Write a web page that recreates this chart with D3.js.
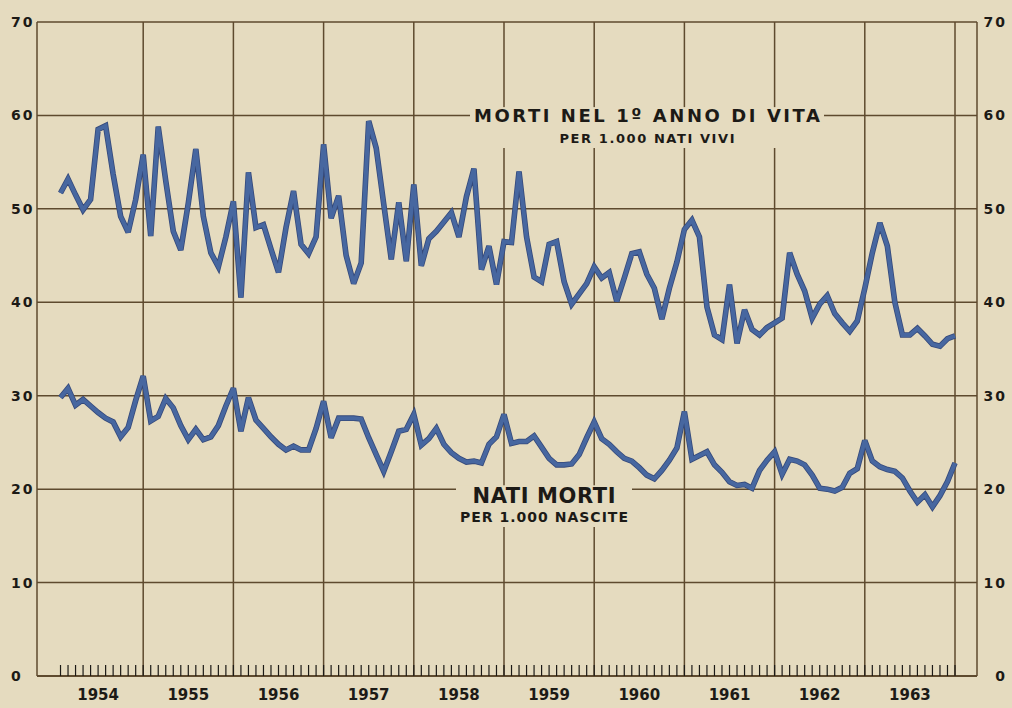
<!DOCTYPE html>
<html>
<head>
  <meta charset="utf-8">
  <script src="https://d3js.org/d3.v7.min.js"></script>
  <style type="text/css">
    body { margin: 0; background: #e5dbbf; }
    svg { display: block; }
  </style>
</head>
<body>
<script type="text/javascript">
  // year labels along the bottom
  var years = [1954, 1955, 1956, 1957, 1958, 1959, 1960, 1961, 1962, 1963];
  var yTicks = [0, 10, 20, 30, 40, 50, 60, 70];

  // morti nel 1º anno di vita per 1.000 nati vivi, one value per month (Jan 1954 .. Dec 1963)
  var mortiPrimoAnno = [
    51.7, 53.2, 51.5, 49.9, 51.0, 58.5, 58.9, 53.7, 49.2, 47.5, 51.0, 55.8,
    47.1, 58.8, 53.0, 47.6, 45.6, 50.6, 56.4, 49.2, 45.3, 43.8, 47.0, 50.8,
    40.5, 53.9, 48.0, 48.3, 45.7, 43.2, 48.0, 51.9, 46.2, 45.2, 47.0, 56.9,
    49.0, 51.4, 45.0, 42.0, 44.2, 59.4, 56.5, 50.5, 44.6, 50.7, 44.4, 52.6,
    43.9, 46.8, 47.6, 48.6, 49.6, 47.0, 51.3, 54.3, 43.5, 46.0, 41.9, 46.5,
    46.4, 54.0, 47.0, 42.7, 42.2, 46.2, 46.5, 42.2, 39.8, 40.9, 42.0, 43.8,
    42.6, 43.2, 40.1, 42.6, 45.2, 45.4, 43.0, 41.5, 38.2, 41.5, 44.3, 47.8,
    48.8, 47.0, 39.5, 36.5, 36.0, 41.9, 35.6, 39.2, 37.1, 36.5, 37.3, 37.8,
    38.3, 45.3, 43.0, 41.2, 38.3, 39.8, 40.7, 38.8, 37.8, 36.9, 38.0, 41.5,
    45.3, 48.5, 46.0, 40.0, 36.5, 36.5, 37.2, 36.4, 35.5, 35.3, 36.1, 36.4
  ];

  // nati morti per 1.000 nascite, same months
  var natiMorti = [
    29.8, 30.8, 29.0, 29.6, 28.9, 28.2, 27.6, 27.2, 25.6, 26.6, 29.5, 32.1,
    27.3, 27.8, 29.7, 28.7, 26.8, 25.3, 26.4, 25.3, 25.6, 26.8, 28.9, 30.8,
    26.2, 29.8, 27.4, 26.5, 25.6, 24.8, 24.2, 24.6, 24.2, 24.2, 26.5, 29.4,
    25.5, 27.6, 27.6, 27.6, 27.5, 25.5, 23.7, 21.9, 24.0, 26.2, 26.4, 28.0,
    24.7, 25.4, 26.5, 24.8, 23.9, 23.3, 22.9, 23.0, 22.8, 24.8, 25.6, 28.0,
    24.9, 25.1, 25.1, 25.7, 24.5, 23.3, 22.6, 22.6, 22.7, 23.7, 25.5, 27.2,
    25.4, 24.8, 24.0, 23.3, 23.0, 22.3, 21.5, 21.1, 22.0, 23.1, 24.4, 28.3,
    23.2, 23.6, 24.0, 22.6, 21.8, 20.8, 20.4, 20.5, 20.1, 22.0, 23.1, 24.0,
    21.6, 23.2, 23.0, 22.6, 21.5, 20.1, 20.0, 19.8, 20.2, 21.7, 22.2, 25.2,
    23.0, 22.4, 22.1, 21.9, 21.2, 19.8, 18.6, 19.4, 18.1, 19.3, 20.8, 22.8
  ];

  var width = 1012,
      height = 708;

  var paper = "#e5dbbf",
      gridColor = "#5e4a2e",
      inkColor = "#1c1a16";

  var svg = d3.select("body")
    .append("svg")
      .attr("width", width)
      .attr("height", height);

  svg.append("rect")
    .attr("width", width)
    .attr("height", height)
    .attr("fill", paper);

  // months counted from start of 1954, every value sits at the end of its month
  var x = d3.scaleLinear().domain([0, 120]).range([53, 955]);
  var y = d3.scaleLinear().domain([0, 70]).range([676, 22]);

  var frameLeft = 37,
      frameRight = 977;

  //Horizontal grid
  svg.selectAll(".hgrid")
    .data(yTicks)
    .enter()
    .append("line")
      .attr("class", "hgrid")
      .attr("x1", frameLeft)
      .attr("x2", frameRight)
      .attr("y1", function (d) { return y(d); })
      .attr("y2", function (d) { return y(d); })
      .attr("stroke", gridColor)
      .attr("stroke-width", function (d) { return d === 0 ? 2 : 1.5; });

  //Vertical grid: frame edges plus year boundaries
  var vLines = [frameLeft, frameRight].concat(d3.range(1, 11).map(function (k) { return x(k * 12); }));
  svg.selectAll(".vgrid")
    .data(vLines)
    .enter()
    .append("line")
      .attr("class", "vgrid")
      .attr("x1", function (d) { return d; })
      .attr("x2", function (d) { return d; })
      .attr("y1", y(70))
      .attr("y2", y(0))
      .attr("stroke", gridColor)
      .attr("stroke-width", 1.5);

  //Month ticks on the zero line
  svg.selectAll(".mtick")
    .data(d3.range(1, 121))
    .enter()
    .append("line")
      .attr("class", "mtick")
      .attr("x1", function (d) { return x(d); })
      .attr("x2", function (d) { return x(d); })
      .attr("y1", y(0))
      .attr("y2", y(0) - 11)
      .attr("stroke", inkColor)
      .attr("stroke-width", 1.2);

  //Axis numbers both sides
  var labelFont = "'DejaVu Sans', sans-serif";
  svg.selectAll(".ylabL")
    .data(yTicks)
    .enter()
    .append("text")
      .attr("x", 11)
      .attr("y", function (d) { return y(d) + 5; })
      .style("font-family", labelFont)
      .style("font-size", "14px")
      .style("font-weight", "bold")
      .style("letter-spacing", "2px")
      .attr("fill", inkColor)
      .text(function (d) { return d; });

  svg.selectAll(".ylabR")
    .data(yTicks)
    .enter()
    .append("text")
      .attr("x", 1007)
      .attr("y", function (d) { return y(d) + 5; })
      .attr("text-anchor", "end")
      .style("font-family", labelFont)
      .style("font-size", "14px")
      .style("font-weight", "bold")
      .style("letter-spacing", "2px")
      .attr("fill", inkColor)
      .text(function (d) { return d; });

  //Year labels centred in each year
  svg.selectAll(".year")
    .data(years)
    .enter()
    .append("text")
      .attr("x", function (d, i) { return x(i * 12 + 6); })
      .attr("y", 700)
      .attr("text-anchor", "middle")
      .style("font-family", labelFont)
      .style("font-size", "15px")
      .style("font-weight", "bold")
      .attr("fill", inkColor)
      .text(function (d) { return d; });

  //Series lines
  var line = d3.line()
    .x(function (d, i) { return x(i + 1); })
    .y(function (d) { return y(d); });

  [mortiPrimoAnno, natiMorti].forEach(function (series) {
    svg.append("path")
      .datum(series)
      .attr("d", line)
      .attr("fill", "none")
      .attr("stroke", "#35497a")
      .attr("stroke-width", 5.6)
      .attr("stroke-linejoin", "miter")
      .attr("stroke-miterlimit", 3);
    svg.append("path")
      .datum(series)
      .attr("d", line)
      .attr("fill", "none")
      .attr("stroke", "#4767a0")
      .attr("stroke-width", 4)
      .attr("stroke-linejoin", "miter")
      .attr("stroke-miterlimit", 3);
  });

  //Series titles sitting on the grid with a paper patch behind them
  function addTitle(cx, big, small, bigY, smallY, bigSize, smallSize, bigW, smallW) {
    var g = svg.append("g");
    var patch = g.append("rect").attr("fill", paper);
    g.append("text")
      .attr("x", cx)
      .attr("y", bigY)
      .attr("text-anchor", "middle")
      .attr("textLength", bigW)
      .attr("lengthAdjust", "spacing")
      .style("font-family", labelFont)
      .style("font-size", bigSize + "px")
      .style("font-weight", "bold")
      .attr("fill", inkColor)
      .text(big);
    g.append("text")
      .attr("x", cx)
      .attr("y", smallY)
      .attr("text-anchor", "middle")
      .attr("textLength", smallW)
      .attr("lengthAdjust", "spacing")
      .style("font-family", labelFont)
      .style("font-size", smallSize + "px")
      .style("font-weight", "bold")
      .attr("fill", inkColor)
      .text(small);
    var w = Math.max(bigW, smallW) + 8;
    patch
      .attr("x", cx - w / 2)
      .attr("y", bigY - bigSize * 0.85)
      .attr("width", w)
      .attr("height", smallY - bigY + bigSize * 0.85 + 5);
  }

  addTitle(647, "MORTI NEL 1º ANNO DI VITA", "PER 1.000 NATI VIVI", y(60) + 7, 143, 18, 13, 346, 175);
  addTitle(544, "NATI MORTI", "PER 1.000 NASCITE", y(20) + 14, 522, 21, 14, 143, 168);
</script>
</body>
</html>
